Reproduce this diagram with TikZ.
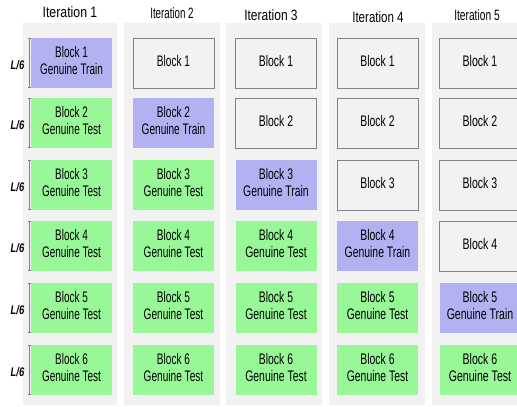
\documentclass[tikz,border=0pt]{standalone}
\usepackage{fontspec}
\usepackage{graphicx}
\setmainfont{Liberation Sans}
\newfontfamily\sizefont{Liberation Sans}[FakeStretch=0.75]
\usetikzlibrary{arrows.meta}

\definecolor{panelgray}{RGB}{242,242,242}
\definecolor{edgegray}{RGB}{130,130,130}
\definecolor{trainblue}{RGB}{178,178,242}
\definecolor{testgreen}{RGB}{152,248,152}

% narrow text: horizontal squeeze of centred lines
\newcommand{\narrowtext}[2]{\scalebox{#1}[1]{\begin{tabular}{@{}c@{}}#2\end{tabular}}}

\begin{document}
\begin{tikzpicture}
[x=1pt,y=-1pt,
  blockDecorate/.style={shape=rectangle,minimum width=81pt,minimum height=50pt,
    inner sep=0pt,align=center},
  blankblock/.style={blockDecorate,fill=panelgray,draw=edgegray,line width=0.7pt},
  trainblock/.style={blockDecorate,fill=trainblue},
  testblock/.style={blockDecorate,fill=testgreen},
  headDecorate/.style={inner sep=0pt,font=\fontsize{15}{15}\selectfont},
  sizeDecorate/.style={inner sep=0pt,font=\sizefont\fontsize{12.5}{14}\selectfont\bfseries\itshape},
  braceDecorate/.style={draw=gray,line width=0.5pt,{Bar[width=2pt,length=0.6pt]}-{Bar[width=2pt,length=0.6pt]}}]
\useasboundingbox (0,0) rectangle (517,407);
\fill[white] (0,0) rectangle (517,407);
%% gray column panels
\foreach \xa/\xb in {23/117, 124/220, 226/322, 329/425, 432/525}
{
  \fill[panelgray] (\xa,23) rectangle (\xb,405);
}
%% iteration headers
\foreach \c/\x/\y/\sx in {1/70/12/0.82, 2/172/13/0.65, 3/271/15.5/0.80, 4/378/17/0.77, 5/477/15/0.68}
{
  \node (it\c) at (\x,\y) [headDecorate] {\scalebox{\sx}[1]{Iteration \c}};
}
%% blocks: kept out, train, test
\foreach \c/\x/\sx in {1/71.5/0.65, 2/173.5/0.66, 3/276/0.68, 4/377.5/0.68, 5/480/0.69}
{
  \foreach \r/\y in {1/63, 2/123, 3/185, 4/246, 5/308, 6/370}
  {
    \ifnum\r<\c
      \node (b\c\r) at (\x,\y) [blankblock,font=\fontsize{15.3}{17}\selectfont] {\narrowtext{\sx}{Block \r}};
    \else\ifnum\r=\c
      \node (b\c\r) at (\x,\y) [trainblock,font=\fontsize{15.3}{17}\selectfont] {\narrowtext{\sx}{Block \r\\Genuine Train}};
    \else
      \node (b\c\r) at (\x,\y) [testblock,font=\fontsize{15.3}{17}\selectfont] {\narrowtext{\sx}{Block \r\\Genuine Test}};
    \fi\fi
  }
}
%% block size marks on the left
\foreach \r/\y in {1/63, 2/123, 3/185, 4/246, 5/308, 6/370}
{
  \node (len\r) at (17.5,\y+2) [sizeDecorate] {L/6};
  \coordinate (top\r) at (29,\y-25);
  \coordinate (bot\r) at (29,\y+25);
  \draw[braceDecorate] (top\r) -- (bot\r);
}
\end{tikzpicture}
\end{document}
